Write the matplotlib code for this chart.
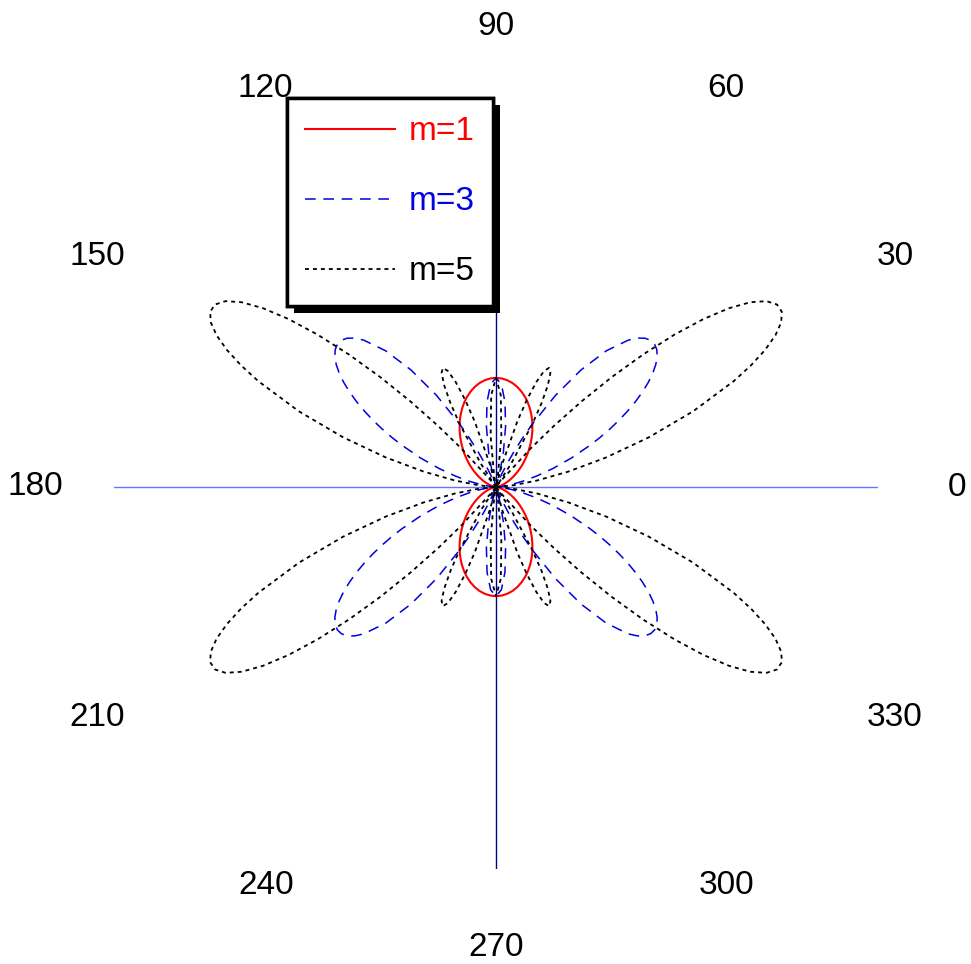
import numpy as np
import matplotlib
matplotlib.use("Agg")
import matplotlib.pyplot as plt
import matplotlib.patheffects as pe

plt.rcParams['font.family'] = ['Liberation Sans', 'DejaVu Sans']

# angles (degrees, first quadrant) and radial values
angles_deg = [0, 3, 6, 9, 12, 15, 18, 21, 24,
              25.5, 27, 28.5, 30, 31.5, 33, 34.5, 36, 37.5, 39, 40.5, 42,
              43.5, 45, 46.5, 48,
              51, 54, 57, 60,
              61.5, 63, 64.5, 66, 67.5, 69, 70.5, 72,
              75, 78, 81, 84, 87, 90]
r_m1 = [0, 0.0017, 0.0068, 0.0153, 0.0272, 0.0427, 0.0618, 0.0845, 0.1108,
        0.1254, 0.1408, 0.1572, 0.1745, 0.1928, 0.2119, 0.2319, 0.2528,
        0.2745, 0.2970, 0.3203, 0.3443, 0.3690, 0.3943, 0.4202, 0.4467,
        0.5007, 0.5558, 0.6115, 0.6667,
        0.6938, 0.7205, 0.7467, 0.7722, 0.7968, 0.8206, 0.8433, 0.8649,
        0.9042, 0.9376, 0.9644, 0.9840, 0.9960, 1.0]
r_m3 = [0, 0.0152, 0.0610, 0.1374, 0.2444, 0.3815, 0.5472, 0.7382, 0.9489,
        1.0594, 1.1712, 1.2832, 1.3934, 1.5001, 1.6009, 1.6936, 1.7759,
        1.8457, 1.9002, 1.9376, 1.9557, 1.9530, 1.9282, 1.8808, 1.8105,
        1.6050, 1.3263, 1.0012, 0.6667,
        0.5091, 0.3652, 0.2399, 0.1378, 0.0622, 0.0159, 0.0000, 0.0145,
        0.1268, 0.3245, 0.5619, 0.7849, 0.9430, 1.0]
r_m5 = [0, 0.0423, 0.1694, 0.3808, 0.6746, 1.0436, 1.4725, 1.9336, 2.3839,
        2.5882, 2.7674, 2.9134, 3.0173, 3.0717, 3.0699, 3.0065, 2.8799,
        2.6911, 2.4445, 2.1489, 1.8169, 1.4648, 1.1115, 0.7774, 0.4833,
        0.0863, 0.0140, 0.2523, 0.6667,
        0.8747, 1.0463, 1.1584, 1.1949, 1.1500, 1.0290, 0.8477, 0.6309,
        0.2129, 0.0040, 0.1154, 0.4696, 0.8426, 1.0]
series_labels = ['m=1', 'm=3', 'm=5']
tick_angles = [0, 30, 60, 90, 120, 150, 180, 210, 240, 270, 300, 330]
tick_labels = ['0', '30', '60', '90', '120', '150', '180', '210', '240',
               '270', '300', '330']


def full_pattern(r_quarter):
    th = np.deg2rad(np.array(angles_deg, dtype=float))
    r = np.array(r_quarter, dtype=float)
    theta = np.concatenate([th, np.pi - th[::-1], np.pi + th, 2 * np.pi - th[::-1]])
    rr = np.concatenate([r, r[::-1], r, r[::-1]])
    return theta, rr


fig = plt.figure(figsize=(9.71, 9.64), dpi=100)
ax = fig.add_axes([114 / 971, 95 / 964, 764 / 971, 764 / 964], projection='polar')
ax.set_ylim(0, 3.5)
ax.set_xticks([])
ax.set_yticks([])
ax.grid(False)
ax.spines['polar'].set_visible(False)

# axis lines
for a in (0, np.pi):
    ax.axvline(a, color='#7070ff', lw=1.0, zorder=1)
for a in (np.pi / 2, 3 * np.pi / 2):
    ax.axvline(a, color='#00008c', lw=1.0, zorder=1)

styles = [dict(color='#ff0000', lw=1.5, linestyle='-'),
          dict(color='#0000e0', lw=1.1, linestyle=(0, (7, 5))),
          dict(color='#000000', lw=1.3, linestyle=(0, (2.2, 2.2)))]
lines = []
for rq, lab, st in zip([r_m1, r_m3, r_m5], series_labels, styles):
    th, rr = full_pattern(rq)
    ln, = ax.plot(th, rr, label=lab, zorder=2, **st)
    lines.append(ln)

for a, lab in zip(tick_angles, tick_labels):
    ax.text(np.deg2rad(a), 4.22, lab, ha='center', va='center', fontsize=24,
            clip_on=False)

leg = ax.legend(handles=lines, loc='upper left',
                bbox_to_anchor=(287 / 971, 1 - 98 / 964),
                bbox_transform=fig.transFigure, borderaxespad=0,
                frameon=True, fancybox=False, edgecolor='black', framealpha=1,
                handlelength=2.7, handletextpad=0.39, labelspacing=1.17,
                borderpad=0.55, fontsize=24, labelcolor='linecolor')
leg.get_frame().set_linewidth(2.5)
leg.get_frame().set_path_effects([
    pe.withSimplePatchShadow(offset=(5, -5), shadow_rgbFace='black', alpha=1),
    pe.Normal()])

fig.savefig('out.png', dpi=100)
